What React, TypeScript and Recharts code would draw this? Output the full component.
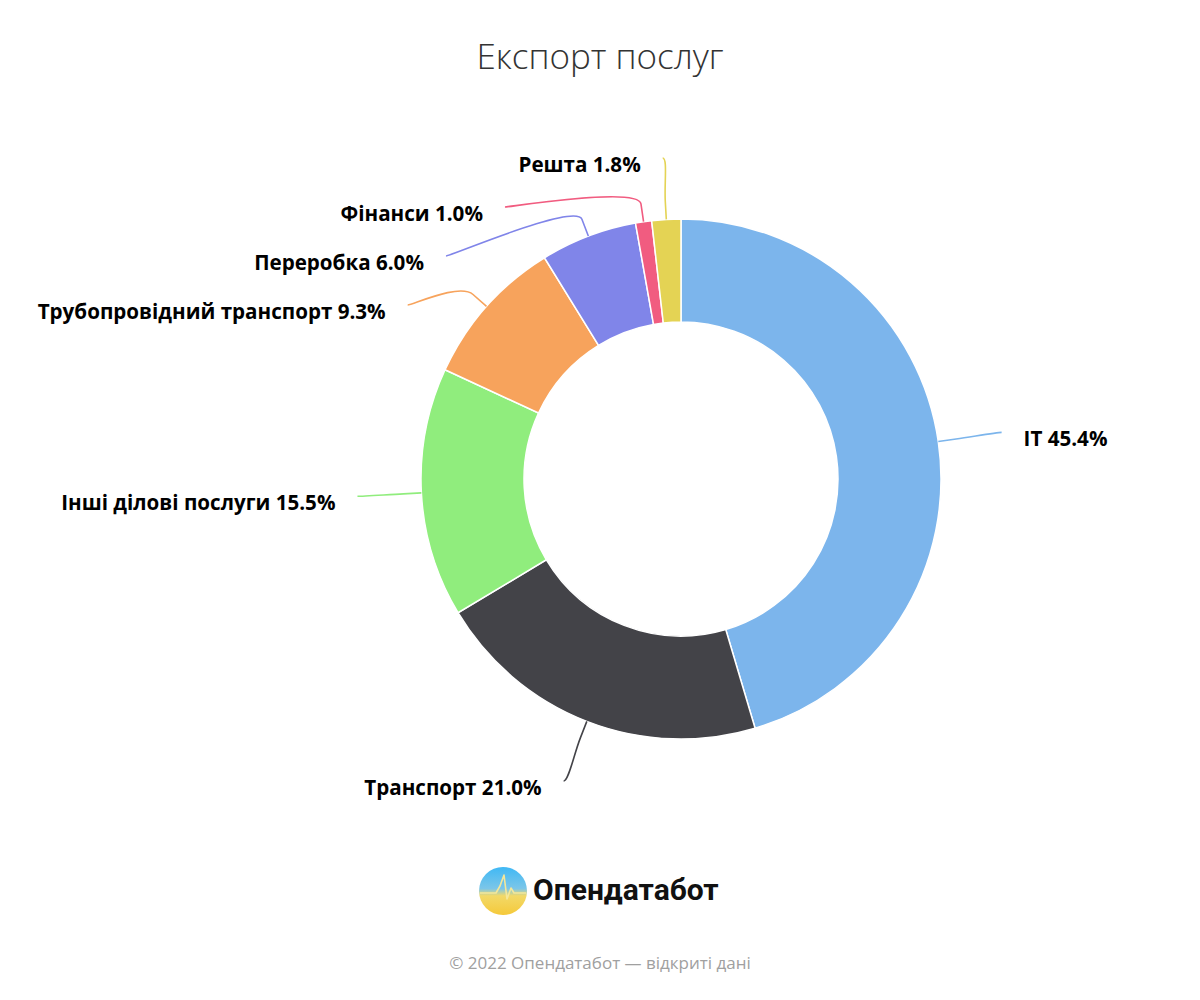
import React from 'react';
import { PieChart, Pie, Cell } from 'recharts';

// ---- data ----
const categories = ['IT', 'Транспорт', 'Інші ділові послуги', 'Трубопровідний транспорт', 'Переробка', 'Фінанси', 'Решта'];
const shares = [45.4, 21.0, 15.5, 9.3, 6.0, 1.0, 1.8];
const colors = ['#7cb5ec', '#434348', '#90ed7d', '#f7a35c', '#8085e9', '#f15c80', '#e4d354'];

const titleText = 'Експорт послуг';
const brandText = 'Опендатабот';
const footerText = '© 2022 Опендатабот — відкриті дані';

const data = categories.map((name, i) => ({ name, value: shares[i] }));

// ---- layout constants ----
const W = 1200;
const H = 1000;
const CX = 681;
const CY = 479;
const INNER = 157;
const OUTER = 260;
const LABEL_DIST = 64;
const BREAK_DIST = 18;
const SPACING = 49;
const TOP_LIMIT = 158;
const TEXT_GAP = 22;
const RAD = Math.PI / 180;

type LabelPos = { i: number; left: boolean; naturalY: number; x: number; y: number };

// Highcharts-like distribution of outside labels
function layoutLabels(): LabelPos[] {
  const total = shares.reduce((a, b) => a + b, 0);
  const R = OUTER + LABEL_DIST;
  let acc = 0;
  const items: LabelPos[] = shares.map((v, i) => {
    const mid = 90 - ((acc + v / 2) / total) * 360;
    acc += v;
    const c = Math.cos(mid * RAD);
    const s = Math.sin(mid * RAD);
    return { i, left: c < 0, naturalY: CY - R * s, x: 0, y: 0 };
  });
  [true, false].forEach((side) => {
    const group = items.filter((it) => it.left === side).sort((a, b) => a.naturalY - b.naturalY);
    let prev = -Infinity;
    group.forEach((it) => {
      it.y = Math.max(it.naturalY, prev + SPACING, TOP_LIMIT);
      prev = it.y;
    });
    group.forEach((it) => {
      const atEdge = it.y <= TOP_LIMIT + 2;
      const yy = atEdge ? it.naturalY : it.y;
      const dy = Math.min(Math.abs(yy - CY), R);
      const dx = Math.sqrt(R * R - dy * dy);
      it.x = CX + (side ? -dx : dx);
    });
  });
  return items;
}

const labelPositions = layoutLabels();

const renderLabel = (props: any) => {
  const { cx, cy, midAngle, outerRadius, index, fill } = props;
  const pos = labelPositions[index];
  const c = Math.cos(-midAngle * RAD);
  const s = Math.sin(-midAngle * RAD);
  const tx = cx + outerRadius * c;
  const ty = cy + outerRadius * s;
  const bx = cx + (outerRadius + BREAK_DIST) * c;
  const by = cy + (outerRadius + BREAK_DIST) * s;
  const lx = pos.x;
  const ly = pos.y;
  const d = `M${lx},${ly} C${lx + (pos.left ? 5 : -5)},${ly} ${2 * bx - tx},${2 * by - ty} ${bx},${by} L${tx},${ty}`;
  const label = `${categories[index]} ${shares[index].toFixed(1)}%`;
  return (
    <g key={`lbl-${index}`}>
      <path d={d} fill="none" stroke={fill || colors[index]} strokeWidth={1.6} />
      <text
        x={pos.left ? lx - TEXT_GAP : lx + TEXT_GAP}
        y={ly + 6}
        textAnchor={pos.left ? 'end' : 'start'}
        dominantBaseline="central"
        fontFamily="'Open Sans', sans-serif"
        fontWeight={700}
        fontSize={20.6}
        fill="#000000"
      >
        {label}
      </text>
    </g>
  );
};

const Logo = () => (
  <svg width={W} height={H} style={{ position: 'absolute', left: 0, top: 0, pointerEvents: 'none' }}>
    <defs>
      <linearGradient id="logoGrad" x1="0" y1="0" x2="0" y2="1">
        <stop offset="0%" stopColor="#3fb8f5" />
        <stop offset="45%" stopColor="#7cc6e8" />
        <stop offset="60%" stopColor="#f2d968" />
        <stop offset="100%" stopColor="#f5c93a" />
      </linearGradient>
    </defs>
    <circle cx={503} cy={891} r={24} fill="url(#logoGrad)" />
    <polyline
      points="480,893 496,893 500,886 504,875 507,899 511,888 514,893 526,893"
      fill="none"
      stroke="#f4e79a"
      strokeWidth={1.6}
      strokeLinejoin="round"
    />
    <text
      x={533}
      y={900}
      fontFamily="Roboto, 'Open Sans', sans-serif"
      fontWeight={700}
      fontSize={30}
      fill="#111111"
    >
      {brandText}
    </text>
  </svg>
);

export default function App() {
  return (
    <div style={{ position: 'absolute', left: 0, top: 0, width: W, height: H, background: '#ffffff' }}>
      <div
        style={{
          position: 'absolute',
          left: 0,
          top: 31,
          width: W,
          textAlign: 'center',
          fontFamily: "'Open Sans', sans-serif",
          fontWeight: 300,
          fontSize: 35,
          lineHeight: '50px',
          color: '#333333',
        }}
      >
        {titleText}
      </div>
      <div style={{ position: 'absolute', left: 0, top: 0 }}>
        <PieChart width={W} height={H} margin={{ top: 0, right: 0, bottom: 0, left: 0 }}>
          <Pie
            data={data}
            dataKey="value"
            nameKey="name"
            cx={CX}
            cy={CY}
            innerRadius={INNER}
            outerRadius={OUTER}
            startAngle={90}
            endAngle={-270}
            stroke="#ffffff"
            strokeWidth={1.5}
            label={renderLabel}
            labelLine={false}
            isAnimationActive={false}
          >
            {data.map((d, i) => (
              <Cell key={d.name} fill={colors[i]} />
            ))}
          </Pie>
        </PieChart>
      </div>
      <Logo />
      <div
        style={{
          position: 'absolute',
          left: 0,
          top: 951,
          width: W,
          textAlign: 'center',
          fontFamily: "'Open Sans', sans-serif",
          fontSize: 17,
          lineHeight: '24px',
          color: '#a0a0a0',
        }}
      >
        {footerText}
      </div>
    </div>
  );
}
